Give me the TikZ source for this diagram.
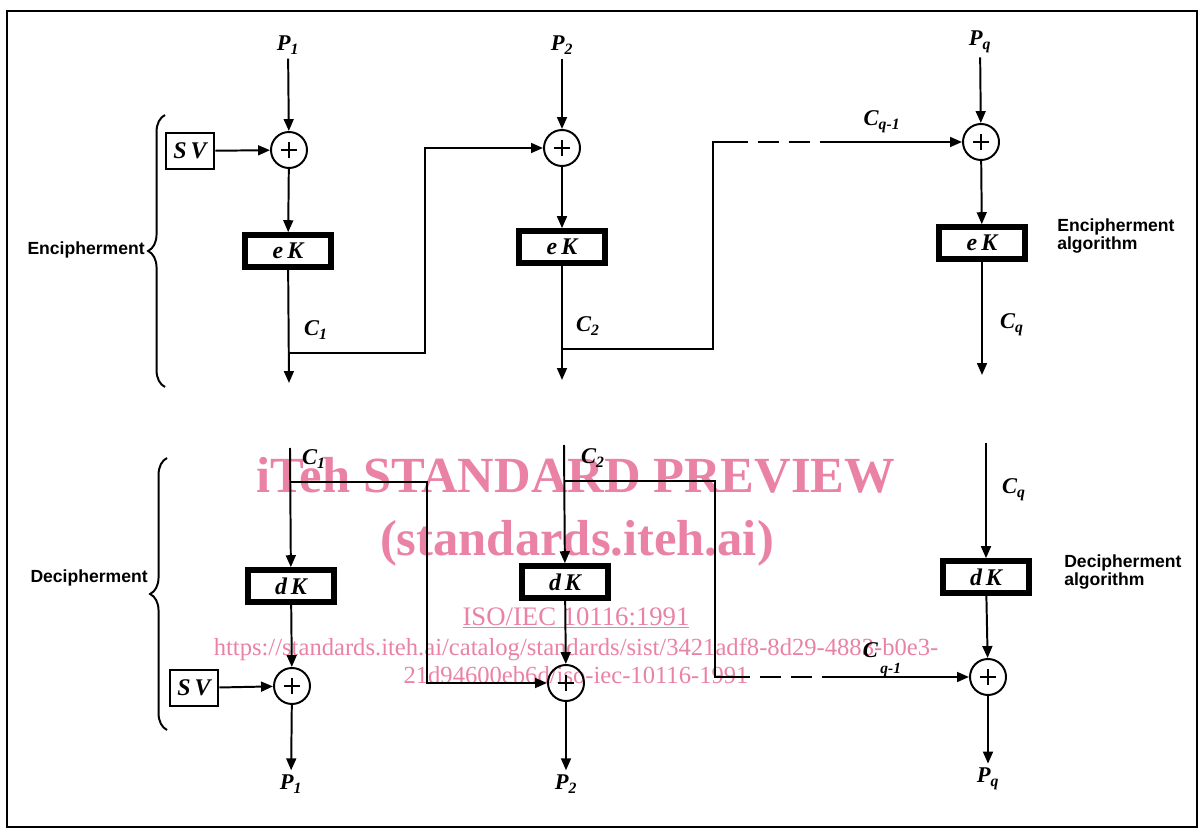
\documentclass[tikz,border=0pt]{standalone}
\usepackage{fontspec}
\setmainfont{Liberation Serif}
\newfontfamily\headsans{Liberation Sans}
\usepackage{xcolor}
\usepackage{tikz}
\usetikzlibrary{positioning}
\usetikzlibrary{arrows.meta}
\usetikzlibrary{decorations.pathreplacing}

\definecolor{wmpink}{RGB}{234,130,165}

\begin{document}
\begin{tikzpicture}[
x=0.025cm, y=-0.025cm,
keybox/.style={
  rectangle,
  draw=black,
  line width=4pt,
  fill=white,
  minimum width=2.15cm,
  minimum height=0.8cm,
  inner sep=0pt,
  font=\fontsize{17}{19}\selectfont\bfseries\itshape
},
svbox/.style={
  rectangle,
  draw=black,
  line width=1.4pt,
  minimum width=1.22cm,
  minimum height=0.88cm,
  inner sep=0pt,
  font=\fontsize{17}{19}\selectfont\bfseries\itshape
},
xorcirc/.style={
  circle,
  draw=black,
  line width=1.4pt,
  minimum size=0.9cm,
  inner sep=0pt,
  path picture={
    \draw[line width=1.7pt] ([xshift=-0.2cm]path picture bounding box.center)
      -- ([xshift=0.2cm]path picture bounding box.center);
    \draw[line width=1.7pt] ([yshift=-0.2cm]path picture bounding box.center)
      -- ([yshift=0.2cm]path picture bounding box.center);
  }
},
  lab/.style={font=\fontsize{16}{18}\selectfont\bfseries\itshape, inner sep=3pt},
  sidetext/.style={font=\headsans\bfseries\fontsize{12.5}{13}\selectfont, align=left, inner sep=0pt},
  wire/.style={line width=1.4pt},
  arr/.style={-{Triangle[length=8.5pt,width=7pt]}, line width=1.4pt},
  dashwire/.style={line width=1.4pt, dash pattern=on 15pt off 7pt, dash phase=15pt},
  brc/.style={decorate, decoration={brace, amplitude=12pt}, line width=1.4pt},
  wmark/.style={text=wmpink, inner sep=0pt, anchor=base}
]
\useasboundingbox (0,0) rectangle (1203,832);

% ---- frame ----
\draw[line width=1.6pt] (7,11) rectangle (1197,827);

% ---- watermark (under the drawing) ----
\node[wmark, font=\fontsize{36}{40}\selectfont\bfseries] (wm1) at (576,493) {iTeh STANDARD PREVIEW};
\node[wmark, font=\fontsize{36}{40}\selectfont\bfseries] (wm2) at (577,555) {(standards.iteh.ai)};
\node[wmark, font=\fontsize{19}{21}\selectfont] (wm3) at (576,625) {\underline{ISO/IEC 10116:1991}};
\node[wmark, font=\fontsize{17.5}{19}\selectfont] (wm4) at (576,655) {https://standards.iteh.ai/catalog/standards/sist/3421adf8-8d29-4883-b0e3-};
\node[wmark, font=\fontsize{17.5}{19}\selectfont] (wm5) at (576,683) {21d94600eb6d/iso-iec-10116-1991};

% ---- TOP: Encipherment ----
\node[lab] (pe1) at (288,45) {P\textsubscript{1}};
\node[lab] (pe2) at (562,45) {P\textsubscript{2}};
\node[lab] (peq) at (980,42) {P\textsubscript{q}};

\node[xorcirc] (xe1) at (289,150) {};
\node[xorcirc] (xe2) at (562,148) {};
\node[xorcirc] (xeq) at (981,142) {};

\node[svbox] (sve) at (190,151) {S\,V};

\node[keybox] (ek1) at (288,251) {e\,K};
\node[keybox] (ek2) at (562,247) {e\,K};
\node[keybox] (ekq) at (982,243) {e\,K};

\coordinate (ce1) at (289,383);
\coordinate (ce2) at (562,380);
\coordinate (ceq) at (982,375);

\draw[arr] (pe1) -- (xe1);
\draw[arr] (pe2) -- (xe2);
\draw[arr] (peq) -- (xeq);
\draw[arr] (sve) -- (xe1);
\draw[arr] (xe1) -- (ek1);
\draw[arr] (xe2) -- (ek2);
\draw[arr] (xeq) -- (ekq);
\draw[arr] (ek1) -- (ce1);
\draw[arr] (ek2) -- (ce2);
\draw[arr] (ekq) -- (ceq);

% chaining C1 -> block 2, C2 -> ... -> block q
\coordinate (br1) at (289,353);
\coordinate (cor1) at (425,148);
\draw[arr] (br1) -| (cor1) -- (xe2);

\coordinate (br2) at (562,349);
\coordinate (cor2) at (713,142);
\coordinate (ga2) at (748,142);
\coordinate (gb2) at (820,142);
\draw[wire] (br2) -| (cor2) -- (ga2);
\draw[dashwire] (ga2) -- (gb2);
\draw[arr] (gb2) -- (xeq);

\node[lab] (lc1) at (316,330) {C\textsubscript{1}};
\node[lab] (lc2) at (588,326) {C\textsubscript{2}};
\node[lab] (lcq) at (1012,325) {C\textsubscript{q}};
\node[lab] (lcq1) at (882,122) {C\textsubscript{q-1}};

\draw[brc] (165,387) -- (165,115);
\node[sidetext, anchor=east] (encl) at (145,250) {Encipherment};
\node[sidetext, anchor=west] (encalg) at (1057,236) {Encipherment\\algorithm};

% ---- BOTTOM: Decipherment ----
\coordinate (cd1) at (290,448);
\coordinate (cd2) at (564,445);
\coordinate (cdq) at (986,443);

\node[keybox] (dk1) at (291,586) {d\,K};
\node[keybox] (dk2) at (565,582) {d\,K};
\node[keybox] (dkq) at (986,577) {d\,K};

\node[xorcirc] (xd1) at (292,686) {};
\node[xorcirc] (xd2) at (566,683) {};
\node[xorcirc] (xdq) at (988,677) {};

\node[svbox] (svd) at (194,688) {S\,V};

\node[lab] (pd1) at (291,784) {P\textsubscript{1}};
\node[lab] (pd2) at (566,784) {P\textsubscript{2}};
\node[lab] (pdq) at (988,779) {P\textsubscript{q}};

\draw[arr] (cd1) -- (dk1);
\draw[arr] (cd2) -- (dk2);
\draw[arr] (cdq) -- (dkq);
\draw[arr] (dk1) -- (xd1);
\draw[arr] (dk2) -- (xd2);
\draw[arr] (dkq) -- (xdq);
\draw[arr] (svd) -- (xd1);
\draw[arr] (xd1) -- (pd1);
\draw[arr] (xd2) -- (pd2);
\draw[arr] (xdq) -- (pdq);

% chaining into the next xor
\coordinate (br3) at (290,482);
\coordinate (cor3) at (427,683);
\draw[arr] (br3) -| (cor3) -- (xd2);

\coordinate (br4) at (564,481);
\coordinate (cor4) at (715,677);
\coordinate (ga4) at (750,677);
\coordinate (gb4) at (822,677);
\draw[wire] (br4) -| (cor4) -- (ga4);
\draw[dashwire] (ga4) -- (gb4);
\draw[arr] (gb4) -- (xdq);

\node[lab] (ld1) at (314,459) {C\textsubscript{1}};
\node[lab] (ld2) at (593,458) {C\textsubscript{2}};
\node[lab] (ldq) at (1014,490) {C\textsubscript{q}};
\node[lab] (ldq1) at (882,660) {C\raisebox{-0.7em}{\fontsize{11}{13}\selectfont\,q-1}};

\draw[brc] (167,730) -- (167,458);
\node[sidetext, anchor=east] (decl) at (148,578) {Decipherment};
\node[sidetext, anchor=west] (decalg) at (1064,572) {Decipherment\\algorithm};

\end{tikzpicture}
\end{document}
